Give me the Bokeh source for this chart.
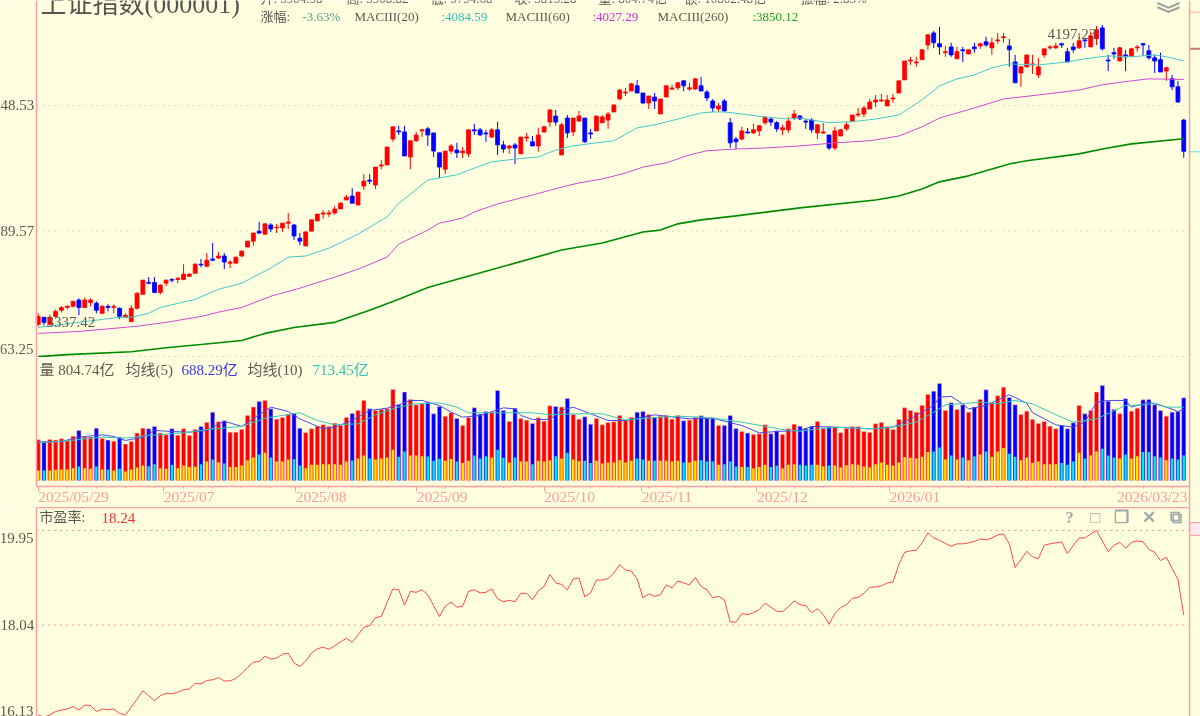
from bokeh.plotting import figure
from bokeh.layouts import column
from bokeh.models import (ColumnDataSource, Range1d, FixedTicker, Label, LinearAxis, Span)
from bokeh.embed import file_html
from bokeh.resources import INLINE

# ------------------------------------------------------------------ data
opens = [3344,3362,3344,3364,3380,3387,3390,3406,3387,3400,3398,3372,3390,3387,3385,3362,3351,3385,3421,3452,
 3452,3426,3450,3460,3460,3460,3468,3476,3500,3495,3514,3517,3522,3503,3503,3522,3546,3562,3589,3581,
 3606,3598,3598,3611,3606,3570,3549,3589,3617,3636,3636,3639,3650,3675,3686,3661,3714,3731,3717,3771,
 3774,3849,3873,3870,3797,3844,3873,3879,3867,3809,3762,3814,3817,3809,3806,3876,3876,3867,3855,3876,
 3832,3823,3832,3806,3852,3841,3829,3870,3899,3917,3803,3911,3870,3902,3911,3867,3873,3897,3905,3929,
 3968,3986,3992,4008,3986,3956,3974,3923,3974,3998,4002,4023,3998,3998,4008,3989,3962,3938,3962,3897,
 3849,3849,3870,3867,3873,3897,3908,3897,3876,3876,3911,3917,3902,3905,3867,3867,3861,3823,3858,3879,
 3902,3920,3923,3938,3959,3962,3947,3968,3986,4026,4084,4078,4088,4134,4172,4138,4110,4128,4091,4119,
 4106,4128,4131,4144,4125,4147,4157,4131,4081,4047,4066,4072,4041,4103,4125,4125,4138,4113,4128,4125,
 4150,4128,4154,4188,4087,4110,4084,4103,4100,4125,4138,4116,4094,4088,4053,4029,4005,3904.98]
highs = [3372,3362,3369,3382,3390,3393,3403,3411,3413,3411,3403,3393,3395,3395,3387,3372,3393,3426,3458,3466,
 3466,3447,3460,3463,3466,3500,3476,3503,3514,3530,3557,3533,3530,3511,3519,3538,3562,3584,3614,3611,
 3611,3609,3611,3639,3609,3584,3589,3620,3636,3647,3647,3658,3669,3689,3708,3697,3748,3748,3768,3788,
 3826,3885,3888,3888,3844,3870,3879,3885,3867,3809,3814,3835,3838,3826,3876,3894,3882,3876,3882,3900,
 3844,3832,3838,3855,3867,3858,3882,3888,3938,3935,3897,3920,3911,3932,3911,3879,3917,3920,3929,3950,
 3998,4001,4017,4026,3986,3977,3986,3968,4008,4011,4020,4026,4017,4032,4035,3995,3968,3956,3968,3911,
 3855,3885,3882,3894,3891,3914,3914,3902,3891,3914,3935,3920,3908,3911,3891,3897,3861,3885,3879,3900,
 3920,3941,3947,3968,3980,3983,3980,3983,4023,4084,4097,4097,4119,4169,4179,4191,4131,4141,4128,4128,
 4119,4141,4141,4160,4157,4172,4172,4153,4103,4069,4103,4103,4094,4122,4134,4141,4141,4125,4141,4172,
 4157,4176,4194,4197.23,4103,4125,4128,4119,4125,4134,4141,4134,4103,4110,4066,4041,4023,3908.82]
lows = [3339,3341,3341,3362,3374,3382,3387,3367,3387,3390,3372,3372,3377,3372,3357,3362,3349,3382,3421,3447,
 3424,3421,3442,3452,3450,3458,3466,3476,3492,3492,3508,3514,3487,3490,3503,3519,3546,3549,3581,3579,
 3587,3584,3587,3595,3565,3551,3549,3589,3617,3623,3628,3634,3650,3675,3666,3661,3703,3720,3706,3762,
 3774,3841,3861,3800,3762,3841,3855,3829,3797,3737,3748,3806,3794,3794,3797,3861,3858,3841,3852,3803,
 3809,3806,3777,3806,3841,3829,3812,3867,3885,3888,3803,3852,3858,3899,3838,3849,3873,3897,3879,3929,
 3965,3977,3992,3986,3953,3938,3938,3923,3974,3995,3995,3992,3992,3995,3992,3962,3929,3929,3929,3823,
 3820,3846,3864,3864,3858,3891,3888,3870,3861,3867,3905,3905,3879,3867,3849,3864,3817,3817,3858,3873,
 3902,3914,3914,3938,3944,3959,3947,3956,3986,4026,4072,4066,4088,4119,4125,4103,4097,4097,4091,4081,
 4106,4110,4122,4128,4103,4138,4141,4066,4017,4005,4063,4044,4032,4094,4119,4122,4125,4081,4110,4122,
 4125,4128,4134,4116,4053,4091,4084,4053,4097,4113,4100,4088,4047,4050,4023,3995,3956,3794.68]
closes = [3364,3349,3362,3377,3387,3390,3403,3387,3406,3406,3380,3390,3387,3390,3364,3367,3385,3424,3458,3450,
 3426,3445,3458,3458,3463,3474,3474,3500,3498,3511,3511,3522,3506,3506,3519,3535,3562,3584,3584,3609,
 3595,3600,3611,3614,3576,3562,3587,3620,3636,3639,3639,3650,3666,3683,3666,3697,3728,3728,3768,3774,
 3826,3885,3870,3800,3844,3861,3876,3861,3814,3768,3814,3829,3809,3814,3876,3873,3861,3864,3876,3832,
 3820,3829,3823,3855,3855,3829,3861,3885,3935,3899,3891,3867,3911,3917,3841,3864,3917,3914,3923,3950,
 3995,3989,4014,3986,3956,3977,3962,3968,4008,4001,4017,4008,4002,4029,3992,3971,3941,3947,3932,3838,
 3841,3873,3867,3876,3888,3914,3899,3879,3882,3902,3923,3908,3899,3876,3891,3870,3823,3873,3876,3891,
 3920,3923,3941,3959,3965,3965,3965,3971,4023,4084,4087,4081,4119,4166,4141,4128,4113,4103,4113,4116,
 4119,4122,4138,4134,4141,4150,4160,4119,4017,4066,4103,4075,4066,4122,4128,4131,4134,4081,4119,4147,
 4147,4163,4182,4122,4084,4106,4125,4097,4122,4128,4134,4094,4084,4050,4063,4005,3959,3813.28]

ma20_idx = [0,14,16,19,21,27,31,35,40,43,46,50,55,60,62,63,67,69,72,75,78,82,86,89,92,96,99,103,106,110,114,116,118,
 121,125,129,131,132,136,140,144,148,152,155,158,161,164,167,172,177,180,184,188,192,194,197]
ma20_val = [3336,3362,3362,3372,3387,3408,3434,3450,3490,3519,3522,3543,3581,3628,3666,3678,3731,3737,3746,3765,3783,
 3791,3797,3817,3829,3838,3844,3882,3891,3908,3926,3929,3929,3923,3914,3908,3911,3908,3897,3900,3908,3920,3965,
 4008,4029,4041,4063,4075,4072,4081,4091,4100,4097,4103,4097,4084.59]
ma60_idx = [0,7,17,22,28,31,35,40,45,51,55,60,62,67,69,73,75,79,85,90,93,97,101,104,108,112,115,120,125,131,137,143,
 148,152,155,161,166,172,179,183,188,191,197]
ma60_val = [3321,3326,3339,3349,3364,3375,3387,3416,3437,3466,3487,3519,3554,3592,3611,3625,3642,3664,3689,3711,3723,
 3734,3751,3768,3780,3803,3815,3820,3823,3829,3838,3844,3858,3885,3911,3941,3968,3980,3995,4011,4023,4029,4027.29]
ma260_idx = [0,5,16,22,28,35,39,44,51,57,62,67,79,90,97,104,107,110,114,120,131,144,148,152,155,160,167,170,179,183,188,197]
ma260_val = [3263,3268,3275,3285,3293,3303,3321,3336,3349,3380,3408,3439,3490,3538,3557,3587,3592,3609,3620,3631,3653,
 3675,3686,3706,3726,3743,3777,3786,3806,3820,3835,3850.12]

volume = [396,380,399,393,406,386,431,487,422,422,509,409,393,383,422,354,380,461,509,503,526,461,444,503,441,503,438,
 496,526,564,665,571,581,470,470,496,633,714,769,779,697,597,613,639,655,509,464,503,526,542,526,558,535,613,652,
 681,779,697,681,691,697,886,736,860,788,736,746,762,649,720,626,659,603,535,613,707,646,672,665,876,681,574,704,
 603,587,555,610,577,727,720,714,798,642,597,620,548,603,542,564,571,633,584,613,665,672,642,616,626,633,597,633,
 581,587,616,629,607,610,535,535,633,506,477,461,448,454,542,454,483,448,503,548,529,503,522,574,506,522,519,464,
 506,526,522,477,467,551,564,526,496,594,707,681,665,730,837,869,944,681,756,691,736,665,714,788,882,759,824,908,
 808,736,642,675,594,555,574,529,503,535,503,561,730,649,681,860,925,772,691,649,795,675,704,785,788,736,681,626,
 665,672,804.74]
volume_part = [97,97,97,104,107,107,120,136,120,114,136,107,107,97,114,88,107,127,146,139,159,120,114,152,120,146,130,
 133,159,185,204,178,165,130,130,146,198,224,253,269,224,185,185,204,208,146,120,152,152,159,159,159,152,185,195,
 214,243,214,204,214,224,298,230,282,243,243,237,234,191,211,191,208,185,169,191,243,214,237,224,298,221,175,224,
 185,185,159,191,185,198,237,214,269,204,188,191,169,191,165,175,175,198,175,191,214,204,191,191,191,191,185,191,
 175,175,191,198,185,185,152,159,185,136,130,130,117,130,152,130,143,117,152,159,152,146,152,152,136,146,146,127,
 149,159,152,136,127,159,175,152,146,175,227,221,214,230,276,282,321,204,243,204,224,198,237,253,282,230,282,315,
 260,230,198,224,172,185,159,159,159,169,152,185,269,214,243,282,308,243,224,214,253,214,237,276,276,237,224,198,
 214,204,243]
vol5_idx = [0,4,7,11,13,15,18,20,23,26,29,32,35,38,40,43,45,49,51,54,57,60,62,64,66,69,71,73,76,80,82,83,85,88,90,92,95,
 98,101,104,106,108,112,116,118,121,124,127,131,133,137,143,147,150,154,155,157,159,160,163,167,170,171,175,178,180,
 182,184,187,188,191,194,196,197]
vol5_val = [373,380,422,444,428,389,422,487,477,470,487,577,526,639,714,672,600,503,519,584,681,704,736,779,779,730,665,
 616,633,707,697,633,594,594,681,714,649,584,584,616,639,626,600,607,577,535,464,477,487,526,519,503,519,600,730,811,
 818,746,697,730,834,753,659,542,519,568,762,779,779,714,762,714,672,688.29]
vol10_idx = [0,5,11,15,19,25,29,35,39,45,48,51,55,58,62,65,69,72,74,80,85,88,92,97,101,105,110,114,117,121,125,128,131,
 137,143,147,151,154,156,162,165,168,171,175,178,182,187,190,192,194,197]
vol10_val = [367,386,422,412,438,464,496,526,607,659,584,542,551,639,714,746,756,714,659,659,659,639,649,649,590,607,626,
 616,600,568,526,496,480,519,503,519,568,665,736,762,746,779,746,639,568,600,730,736,753,714,713.45]

pe = [16.22,16.18,16.22,16.29,16.32,16.34,16.39,16.32,16.42,16.41,16.29,16.34,16.33,16.34,16.25,16.22,16.38,16.54,16.71,
 16.61,16.51,16.61,16.66,16.65,16.68,16.73,16.75,16.86,16.85,16.92,16.93,16.98,16.91,16.91,16.96,17.06,17.18,17.29,
 17.30,17.41,17.35,17.37,17.45,17.47,17.27,17.20,17.31,17.47,17.56,17.59,17.55,17.62,17.70,17.77,17.69,17.84,17.99,
 18.03,18.19,18.21,18.50,18.77,18.75,18.44,18.72,18.70,18.75,18.65,18.43,18.21,18.42,18.50,18.40,18.42,18.72,18.75,
 18.69,18.70,18.77,18.57,18.51,18.54,18.51,18.68,18.68,18.55,18.73,18.82,19.06,18.89,18.86,18.75,18.97,18.99,18.61,
 18.69,18.95,18.95,18.98,19.09,19.26,19.15,19.13,18.97,18.59,18.67,18.62,18.65,18.85,18.79,18.93,18.89,18.85,19.00,
 18.82,18.75,18.59,18.62,18.55,18.10,18.10,18.27,18.25,18.29,18.35,18.48,18.40,18.32,18.31,18.41,18.53,18.45,18.43,
 18.29,18.37,18.25,18.06,18.27,18.39,18.45,18.58,18.60,18.68,18.80,18.81,18.83,18.89,18.91,19.26,19.51,19.54,19.55,
 19.70,19.90,19.80,19.75,19.69,19.63,19.68,19.68,19.70,19.73,19.78,19.76,19.80,19.86,19.88,19.68,19.20,19.36,19.53,
 19.42,19.38,19.65,19.68,19.70,19.72,19.48,19.65,19.80,19.80,19.88,19.95,19.74,19.52,19.65,19.71,19.59,19.71,19.74,
 19.72,19.57,19.51,19.34,19.41,19.18,18.96,18.24]

date_ticks = [0.0, 21.6, 44.3, 65.1, 87.0, 103.8, 123.6, 146.4]
date_labels = ["2025/05/29","2025/07","2025/08","2025/09","2025/10","2025/11","2025/12","2026/01"]
price_grid = [3263.25, 3589.57, 3948.53]
price_tick_labels = ["63.25", "89.57", "48.53"]
pe_grid = [18.04, 19.95]

# ------------------------------------------------------------------ style
BG = "#FFFFE0"; PINK = "#FF9F9F"; GRIDA = "#FFC9B8"; GRIDC = "#FF8F8F"; GRAY = "#5A5A50"
FONT = "Liberation Serif, Noto Sans CJK SC"
WIDTH = 1200
N = len(closes)
# the frame fills the page width; the plot body runs XMIN..XEDGE inside it
XFRAME, XMIN, XEDGE, XMAX = -6.483, -0.35, 198.0, 199.88
xr = Range1d(XFRAME, XMAX)
xs = list(range(N))
UP, DOWN = "#FF0000", "#0000FF"
colors = [UP if c >= o else DOWN for o, c in zip(opens, closes)]

def make_fig(h, yr, ticks=(), tick_text=(), ybounds=None, **kw):
    f = figure(width=WIDTH, height=h, x_range=xr, y_range=yr, output_backend="svg", toolbar_location=None,
               background_fill_color=BG, border_fill_color=BG, outline_line_color=None,
               min_border_left=0, min_border_right=0, min_border_top=0, min_border_bottom=0,
               x_axis_location=None, **kw)
    f.grid.visible = False
    ax = f.yaxis[0]
    ax.fixed_location = XMIN
    ax.ticker = FixedTicker(ticks=list(ticks))
    ax.major_label_overrides = dict(zip(ticks, tick_text))
    ax.axis_line_color = PINK
    ax.axis_line_width = 1.5
    ax.major_tick_line_color = None
    ax.minor_tick_line_color = None
    ax.major_tick_out = 0
    ax.major_tick_in = 0
    ax.minor_tick_out = 0
    ax.minor_tick_in = 0
    ax.major_label_standoff = 2
    ax.major_label_text_font = FONT
    ax.major_label_text_font_size = "15px"
    ax.major_label_text_color = GRAY
    if ybounds:
        ax.bounds = ybounds
    f.add_layout(Span(location=XEDGE, dimension="height", line_color=PINK, line_width=1.5))
    return f

def label(f, fh, fb, px, py, text, color=GRAY, size=13, align="left", style="normal"):
    """px, py are page pixels; fh = page y of the figure's top, fb = frame height."""
    f.add_layout(Label(x=px, y=fb - (py - fh), x_units="screen", y_units="screen", text=text,
                       text_color=color, text_font=FONT, text_font_size=f"{size}px", text_align=align,
                       text_baseline="middle", text_font_style=style))

# ------------------------------------------------------------------ price panel
A_H = 357
a = make_fig(A_H, Range1d(3260.8, 4276.0), ticks=price_grid[1:], tick_text=price_tick_labels[1:], y_axis_type="log")
a.segment([XMIN] * 3, price_grid, [XEDGE] * 3, price_grid, line_color=GRIDA, line_width=1, line_dash="dotted")
src = ColumnDataSource(dict(x=xs, o=opens, h=highs, l=lows, c=closes, col=colors,
                            top=[max(p, q) for p, q in zip(opens, closes)],
                            bot=[min(p, q) for p, q in zip(opens, closes)]))
a.segment("x", "h", "x", "l", source=src, color="col", line_width=1)
a.vbar("x", 0.68, "top", "bot", source=src, fill_color="col", line_color="col", line_width=0.8)
a.line(ma20_idx, ma20_val, line_color="#45C8C8", line_width=1)
a.line(ma60_idx, ma60_val, line_color="#D048D0", line_width=1)
a.line(ma260_idx, ma260_val, line_color="#008A00", line_width=1.6)
# side-strip markers: current close and two reference levels
a.segment([XEDGE] * 3, [4238, 4122, 3812], [XMAX] * 3, [4238, 4122, 3812],
          line_color=["#FFB0A0", "#C87878", "#60E0E0"], line_width=[1, 2, 1])

label(a, 0, A_H, 40, 4, "上证指数(000001)", "#555550", 26)
for px, t in [(260, "开: 3904.98"), (346, "高: 3908.82"), (430, "低: 3794.68"), (514, "收: 3813.28"),
              (598, "量: 804.74亿"), (684, "额: 10802.48亿"), (800, "振幅: 2.83%")]:
    label(a, 0, A_H, px, -2, t)
for px, t, c in [(260, "涨幅:", GRAY), (302, "-3.63%", "#58A088"), (354, "MACIII(20)", GRAY),
                 (441, ":4084.59", "#30C0C0"), (505, "MACIII(60)", GRAY), (592, ":4027.29", "#D030D0"),
                 (657, "MACIII(260)", GRAY), (752, ":3850.12", "#20A020")]:
    label(a, 0, A_H, px, 16, t, c)
label(a, 0, A_H, 33, 348, price_tick_labels[0], GRAY, 15, "right")
label(a, 0, A_H, 46, 321, "3337.42", GRAY, 15)
label(a, 0, A_H, 1047, 33, "4197.23", GRAY, 15)
for py in (-6, 14):
    label(a, 0, A_H, 1168, py, "︾", "#98A0A0", 24, "center", style="bold")

# ------------------------------------------------------------------ volume panel
B_H = 150
b = make_fig(B_H, Range1d(-263, 1197), ybounds=(-58, 1197))   # frame runs down to the next panel
vsrc = ColumnDataSource(dict(x=xs, v=volume, p=volume_part, col=colors,
                             inner=["#FFE800" if c == UP else "#00E8F8" for c in colors]))
b.vbar("x", 0.72, "v", 0, source=vsrc, fill_color="col", line_color="#FFB0B0", line_width=0.5)
b.vbar("x", 0.42, "p", 0, source=vsrc, fill_color="inner", line_color=None)
b.line(vol5_idx, vol5_val, line_color="#4848F0", line_width=1)
b.line(vol10_idx, vol10_val, line_color="#38C8B8", line_width=1)
xa = LinearAxis(ticker=FixedTicker(ticks=date_ticks, minor_ticks=[float(k) for k in range(0, 198, 5)]),
                fixed_location=-58, bounds=(XMIN, XEDGE),
                axis_line_color=PINK, axis_line_width=1.5, major_tick_line_color=PINK, minor_tick_line_color=PINK,
                major_tick_in=0, major_tick_out=5, minor_tick_in=0, minor_tick_out=2,
                major_label_text_color=None, major_label_text_font_size="1px")
b.add_layout(xa, "below")
for tick, text in zip(date_ticks, date_labels):
    b.add_layout(Label(x=tick, y=B_H - (496 - A_H), y_units="screen", text=text, text_color="#FF9A9A",
                       text_font=FONT, text_font_size="15.5px", text_align="left", text_baseline="middle"))
T = A_H
label(b, T, B_H, 39, 369, "量 804.74亿", GRAY, 15)
label(b, T, B_H, 125, 369, "均线(5)", GRAY, 15)
label(b, T, B_H, 181, 369, "688.29亿", "#3838F0", 15)
label(b, T, B_H, 247, 369, "均线(10)", GRAY, 15)
label(b, T, B_H, 312, 369, "713.45亿", "#30C0B8", 15)
label(b, T, B_H, 1187, 496, "2026/03/23", "#FF9A9A", 15.5, "right")

# ------------------------------------------------------------------ P/E panel
C_H = 209
c = make_fig(C_H, Range1d(16.19, 20.415), ticks=pe_grid[:1], tick_text=["18.04"])
c.segment([XMIN] * 2, pe_grid, [XEDGE] * 2, pe_grid, line_color=GRIDC, line_width=1, line_dash="dotted")
top_axis = LinearAxis(axis_line_color=PINK, axis_line_width=1.5, major_tick_line_color=None, minor_tick_line_color=None,
                      major_tick_out=0, major_tick_in=0, minor_tick_out=0, minor_tick_in=0,
                      major_label_text_color=None, major_label_text_font_size="0px", ticker=FixedTicker(ticks=[]),
                      bounds=(XMIN, XEDGE))
c.add_layout(top_axis, "above")
c.line(xs, pe, line_color="#FF4848", line_width=1)
c.quad(left=XEDGE, right=XMAX, bottom=19.85, top=20.11, fill_color="#FFE8F0", line_color=PINK, line_width=1)
T = A_H + B_H
label(c, T, C_H, 39, 517, "市盈率:", GRAY, 14)
label(c, T, C_H, 101, 517, "18.24", "#FF3030", 15)
label(c, T, C_H, 33, 537, "19.95", GRAY, 15, "right")
label(c, T, C_H, 33, 710, "16.13", GRAY, 15, "right")
for px, t in [(1069, "?"), (1095, "□"), (1121, "❐"), (1148, "✕"), (1175, "⧉")]:
    label(c, T, C_H, px, 517, t, "#A0A8A8", 17, "center", style="bold")

root = column(a, b, c, spacing=0, styles={"position": "fixed", "left": "0px", "top": "0px"})
open("out.html", "w").write(file_html(root, INLINE))
